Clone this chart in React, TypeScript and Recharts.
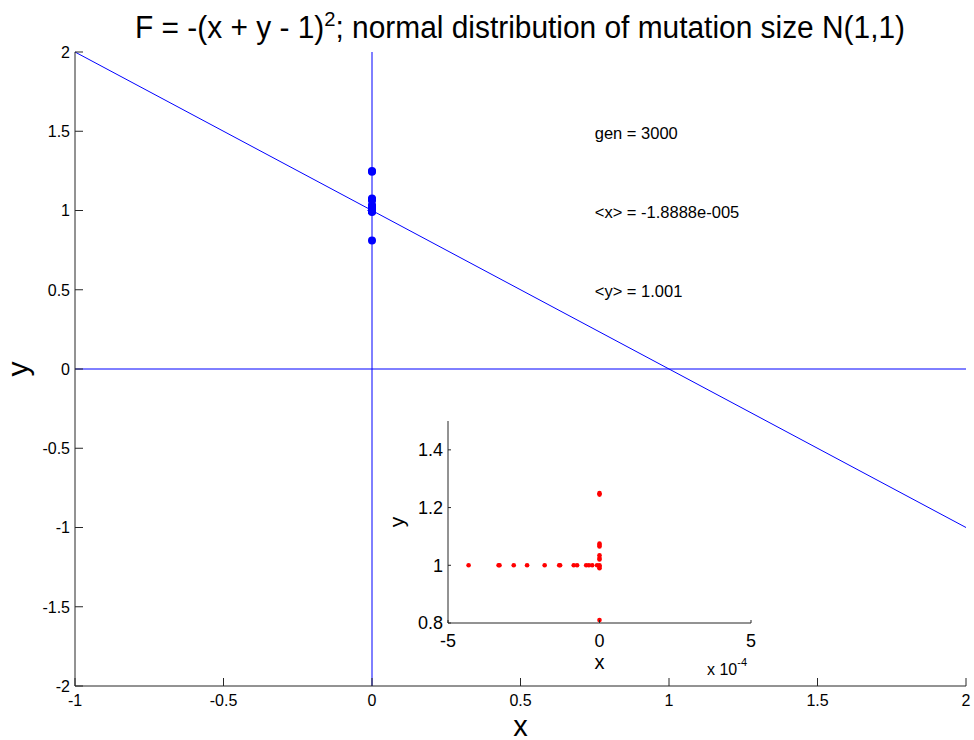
import React from "react";
import { ScatterChart, Scatter, XAxis, YAxis, ReferenceLine } from "recharts";

const FONT = '"Liberation Sans", Arial, sans-serif';
const BLUE = "#0000ff";
const RED = "#ff0000";
const AXIS = "#262626";

// population at gen 3000, arm sitting on x = 0
const armAtZeroY = [1.25, 1.245, 1.075, 1.07, 1.065, 1.035, 1.025, 1.02, 1.0, 0.995, 0.99, 0.81];
// arm sitting on y = 1, x given in units of 1e-4
const armAtOneX = [-4.32, -3.33, -3.3, -2.83, -2.39, -1.81, -1.33, -1.3, -0.85, -0.74, -0.44, -0.35, -0.24, -0.08];

const mainXTicks = [-1, -0.5, 0, 0.5, 1, 1.5, 2];
const mainYTicks = [-2, -1.5, -1, -0.5, 0, 0.5, 1, 1.5, 2];
const insetXTicks = [-5e-4, 0, 5e-4];
const insetYTicks = [0.8, 1, 1.2, 1.4];

// ridge of maximal fitness, x + y = 1
const ridge = [
  { x: -1, y: 2 },
  { x: 2, y: -1 },
];

const notes = [
  { x: 0.75, y: 1.5, text: "gen = 3000" },
  { x: 0.75, y: 1.0, text: "<x> = -1.8888e-005" },
  { x: 0.75, y: 0.5, text: "<y> = 1.001" },
];

const population = [
  ...armAtZeroY.map((y) => ({ x: 0, y })),
  ...armAtOneX.map((x) => ({ x: x * 1e-4, y: 1 })),
];

// matlab style ticks: mark points inwards, label sits outside
const xTick = (len: number, size: number, gap: number, fmt?: (v: number) => string) => (p: any) => (
  <g>
    <line x1={p.x} x2={p.x} y1={p.y} y2={p.y - len} stroke={AXIS} />
    <text x={p.x} y={p.y + gap} textAnchor="middle" fontSize={size} fontFamily={FONT} fill="#000">
      {fmt ? fmt(p.payload.value) : String(p.payload.value)}
    </text>
  </g>
);

const yTick = (len: number, size: number, gap: number) => (p: any) => (
  <g>
    <line x1={p.x} x2={p.x + len} y1={p.y} y2={p.y} stroke={AXIS} />
    <text x={p.x - gap} y={p.y + size * 0.36} textAnchor="end" fontSize={size} fontFamily={FONT} fill="#000">
      {String(p.payload.value)}
    </text>
  </g>
);

const dot = (r: number, color: string) => (p: any) => <circle cx={p.cx} cy={p.cy} r={r} fill={color} />;

const noteShape = (p: any) => (
  <text x={p.cx} y={p.cy + 7.5} fontSize={16.5} fontFamily={FONT} fill="#000">
    {p.payload.text}
  </text>
);

export default function App() {
  return (
    <div style={{ position: "absolute", left: 0, top: 0, width: 974, height: 740, background: "#fff", fontFamily: FONT }}>
      <ScatterChart width={974} height={740} margin={{ top: 52, right: 8, bottom: 4, left: 15 }}>
        <XAxis
          type="number"
          dataKey="x"
          domain={[-1, 2]}
          ticks={mainXTicks}
          interval={0}
          height={50}
          tickSize={0}
          tickMargin={0}
          tickLine={false}
          tick={xTick(8, 16, 20)}
          axisLine={{ stroke: AXIS }}
          label={(p: any) => {
            const vb = p.viewBox ?? { x: 75, y: 686, width: 891, height: 50 };
            return (
              <text x={vb.x + vb.width / 2} y={vb.y + 50} textAnchor="middle" fontSize={29} fontFamily={FONT} fill="#000">
                x
              </text>
            );
          }}
        />
        <YAxis
          type="number"
          dataKey="y"
          domain={[-2, 2]}
          ticks={mainYTicks}
          interval={0}
          width={60}
          tickSize={0}
          tickMargin={0}
          tickLine={false}
          tick={yTick(8, 16, 5)}
          axisLine={{ stroke: AXIS }}
          label={(p: any) => {
            const vb = p.viewBox ?? { x: 15, y: 52, width: 60, height: 634 };
            const cx = vb.x + 13;
            const cy = vb.y + vb.height / 2;
            return (
              <text x={cx} y={cy} transform={`rotate(-90 ${cx} ${cy})`} textAnchor="middle" fontSize={30} fontFamily={FONT} fill="#000">
                y
              </text>
            );
          }}
        />
        <ReferenceLine x={0} stroke={BLUE} strokeWidth={1} />
        <ReferenceLine y={0} stroke={BLUE} strokeWidth={1} />
        <ReferenceLine segment={ridge} stroke={BLUE} strokeWidth={1} />
        <Scatter data={population} shape={dot(4, BLUE)} isAnimationActive={false} />
        <Scatter data={notes} shape={noteShape} isAnimationActive={false} />
      </ScatterChart>

      <svg width={974} height={60} style={{ position: "absolute", left: 0, top: 0 }}>
        <text x={520} y={38} textAnchor="middle" fontSize={31} fontFamily={FONT} fill="#000" textLength={770} lengthAdjust="spacingAndGlyphs">
          F = -(x + y - 1)
          <tspan dy={-12} fontSize={21}>
            2
          </tspan>
          <tspan dy={12}>; normal distribution of mutation size N(1,1)</tspan>
        </text>
      </svg>

      <div style={{ position: "absolute", left: 380, top: 400 }}>
        <ScatterChart width={400} height={290} margin={{ top: 21, right: 29, bottom: 17, left: 28 }}>
          <XAxis
            type="number"
            dataKey="x"
            domain={[-5e-4, 5e-4]}
            ticks={insetXTicks}
            interval={0}
            height={50}
            tickSize={0}
            tickMargin={0}
            tickLine={false}
            tick={xTick(3, 18, 23.5, (v) => String(Math.round(v * 1e4)))}
            axisLine={{ stroke: AXIS }}
            label={(p: any) => {
              const vb = p.viewBox ?? { x: 68, y: 223, width: 303, height: 50 };
              return (
                <g>
                  <text x={vb.x + vb.width / 2} y={vb.y + 46} textAnchor="middle" fontSize={20} fontFamily={FONT} fill="#000">
                    x
                  </text>
                  <text x={vb.x + vb.width - 44} y={vb.y + 52} fontSize={16} fontFamily={FONT} fill="#000">
                    x 10
                    <tspan dy={-9} fontSize={11}>
                      -4
                    </tspan>
                  </text>
                </g>
              );
            }}
          />
          <YAxis
            type="number"
            dataKey="y"
            domain={[0.8, 1.5]}
            ticks={insetYTicks}
            interval={0}
            width={40}
            tickSize={0}
            tickMargin={0}
            tickLine={false}
            tick={yTick(3, 18, 5)}
            axisLine={{ stroke: AXIS }}
            label={(p: any) => {
              const vb = p.viewBox ?? { x: 28, y: 21, width: 40, height: 202 };
              const cx = vb.x - 4;
              const cy = vb.y + vb.height / 2;
              return (
                <text x={cx} y={cy} transform={`rotate(-90 ${cx} ${cy})`} textAnchor="middle" fontSize={21} fontFamily={FONT} fill="#000">
                  y
                </text>
              );
            }}
          />
          <Scatter data={population} shape={dot(2.3, RED)} isAnimationActive={false} />
        </ScatterChart>
      </div>
    </div>
  );
}
